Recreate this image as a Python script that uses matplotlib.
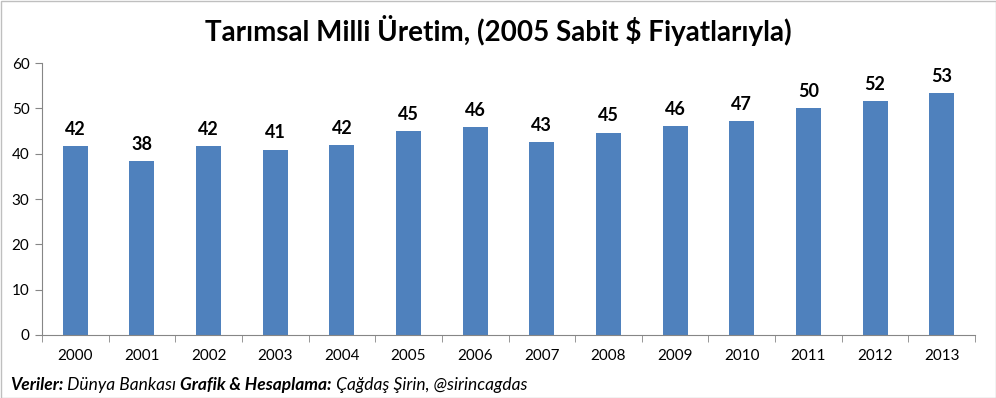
import numpy as np
import matplotlib
matplotlib.use('Agg')
import matplotlib.pyplot as plt
from matplotlib.patches import Rectangle

years = ['2000', '2001', '2002', '2003', '2004', '2005', '2006',
         '2007', '2008', '2009', '2010', '2011', '2012', '2013']
values = [41.6, 38.4, 41.6, 40.9, 41.9, 45.0, 45.9,
          42.6, 44.6, 46.1, 47.2, 50.0, 51.6, 53.3]
labels = ['42', '38', '42', '41', '42', '45', '46',
          '43', '45', '46', '47', '50', '52', '53']
yticks = [0, 10, 20, 30, 40, 50, 60]

plt.rcParams['font.family'] = ['Lato', 'DejaVu Sans']
bar_color = '#4F81BD'
axis_color = '#868686'

fig = plt.figure(figsize=(9.96, 3.98), dpi=100)
ax = fig.add_axes([42 / 996, 1 - 335 / 398, (975 - 42) / 996, (335 - 63) / 398])

x = np.arange(len(years))
ax.bar(x, values, width=0.375, color=bar_color)
for xi, v, lab in zip(x, values, labels):
    ax.annotate(lab, (xi, v), xytext=(0, 6), textcoords='offset points',
                ha='center', va='bottom', fontsize=13, fontweight='bold')

ax.set_xlim(-0.5, len(years) - 0.5)
ax.set_ylim(0, 60)
ax.set_yticks(yticks)
ax.set_xticks(x)
ax.set_xticklabels(years)
ax.set_xticks(np.arange(-0.5, len(years)), minor=True)
ax.tick_params(axis='x', which='major', length=0, pad=10, labelsize=11)
ax.tick_params(axis='x', which='minor', length=5, color=axis_color, direction='out')
ax.tick_params(axis='y', length=5, color=axis_color, labelsize=11, pad=4)

for s in ['top', 'right']:
    ax.spines[s].set_visible(False)
for s in ['left', 'bottom']:
    ax.spines[s].set_color(axis_color)

fig.text(0.5, 1 - 31 / 398, 'Tarımsal Milli Üretim, (2005 Sabit $ Fiyatlarıyla)',
         ha='center', va='center', fontsize=20, fontweight='bold')

# footer: bold italic and italic pieces, each placed right after the previous one
cur = fig.text(10 / 996, 1 - 390 / 398, 'Veriler:', fontsize=12.5,
               fontweight='bold', style='italic', va='baseline')
parts = [(' Dünya Bankası ', 'normal'), ('Grafik & Hesaplama:', 'bold'),
         (' Çağdaş Şirin, @sirincagdas', 'normal')]
for txt, w in parts:
    cur = fig.axes[0].annotate(txt, xy=(1, 0), xycoords=cur, fontsize=12.5,
                               fontweight=w, style='italic', va='bottom',
                               ha='left', annotation_clip=False)

fig.patches.append(Rectangle((0.5 / 996, 0.5 / 398), 995 / 996, 397 / 398,
                             transform=fig.transFigure, fill=False,
                             edgecolor='#BFBFBF', linewidth=1))

plt.savefig('out.png', dpi=100)
